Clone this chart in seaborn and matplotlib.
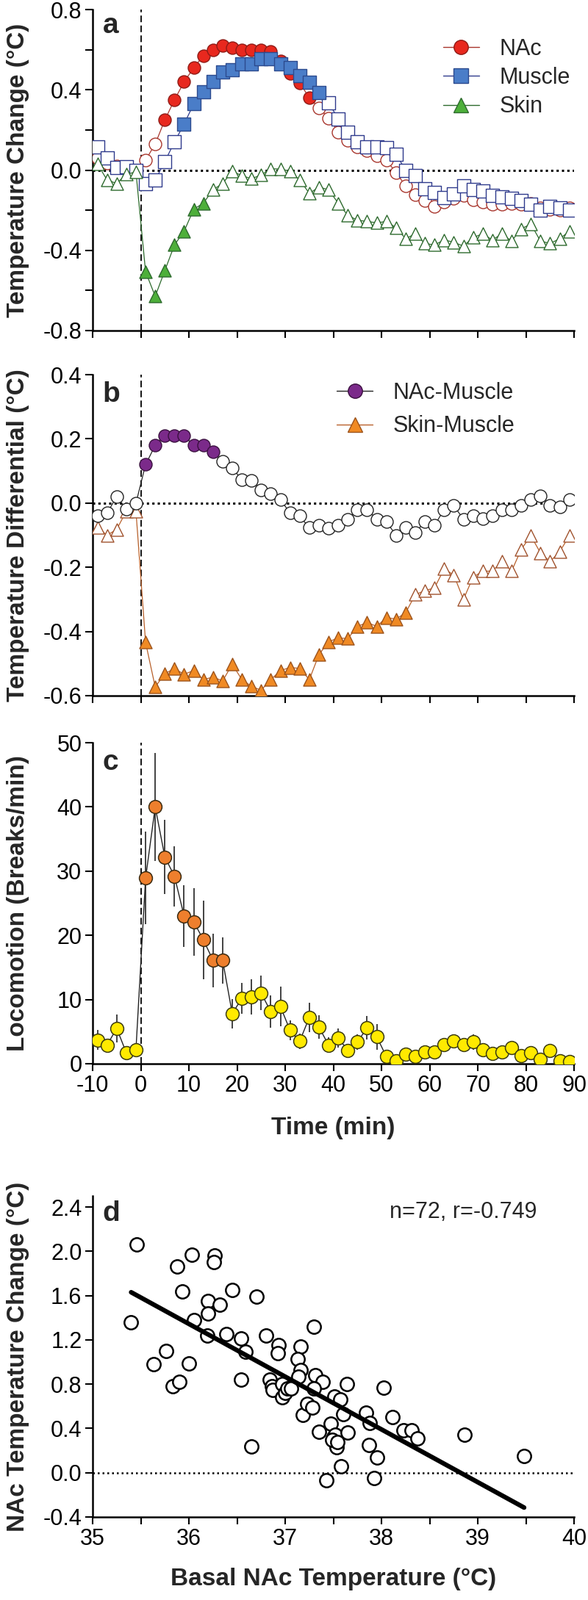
import numpy as np
import pandas as pd
import matplotlib
matplotlib.use("Agg")
import matplotlib.pyplot as plt
import seaborn as sns
from matplotlib.lines import Line2D
from matplotlib.ticker import MultipleLocator

sns.set_style("ticks")
plt.rcParams["font.family"] = ["Liberation Sans", "DejaVu Sans"]
plt.rcParams["axes.unicode_minus"] = False

# ---------------- data ----------------
time_min = list(range(-9, 90, 2))

nac = [0.06, 0.035, 0.02, 0.01, 0.0,
       0.05, 0.13, 0.25, 0.35, 0.44, 0.51, 0.57, 0.60, 0.62, 0.61,
       0.60, 0.60, 0.60, 0.59, 0.545, 0.48, 0.435, 0.36, 0.31, 0.26,
       0.19, 0.147, 0.116, 0.098, 0.073, 0.049, -0.012, -0.079, -0.122, -0.153,
       -0.183, -0.159, -0.14, -0.128, -0.147, -0.159, -0.171, -0.171, -0.165, -0.171,
       -0.165, -0.19, -0.195, -0.2, -0.19]
muscle = [0.116, 0.061, 0.012, 0.018, 0.0,
          -0.067, -0.05, 0.043, 0.14, 0.23, 0.33, 0.39, 0.44, 0.49, 0.50,
          0.53, 0.53, 0.555, 0.555, 0.53, 0.51, 0.47, 0.436, 0.387, 0.336,
          0.256, 0.19, 0.14, 0.116, 0.116, 0.11, 0.079, 0.0, -0.028, -0.092,
          -0.11, -0.138, -0.12, -0.08, -0.098, -0.104, -0.128, -0.134, -0.14, -0.153,
          -0.171, -0.2, -0.183, -0.19, -0.2]
skin = [0.03, -0.049, -0.067, -0.02, -0.01,
        -0.507, -0.629, -0.501, -0.373, -0.305, -0.195, -0.165, -0.098, -0.067, -0.006,
        -0.028, -0.043, -0.024, 0.006, 0.006, -0.006, -0.049, -0.116, -0.085, -0.098,
        -0.165, -0.226, -0.25, -0.256, -0.263, -0.256, -0.287, -0.342, -0.318, -0.366,
        -0.373, -0.348, -0.36, -0.379, -0.336, -0.318, -0.348, -0.318, -0.354, -0.293,
        -0.269, -0.354, -0.366, -0.342, -0.305]

nac_muscle = [-0.039, -0.031, 0.02, -0.018, 0.0,
              0.12, 0.18, 0.21, 0.21, 0.21, 0.18, 0.18, 0.16, 0.13, 0.11,
              0.072, 0.07, 0.041, 0.03, 0.011, -0.031, -0.04, -0.077, -0.069, -0.079,
              -0.069, -0.05, -0.02, -0.02, -0.05, -0.058, -0.1, -0.077, -0.092, -0.058,
              -0.069, -0.02, -0.008, -0.05, -0.039, -0.049, -0.039, -0.02, -0.02, -0.008,
              0.012, 0.022, -0.008, -0.011, 0.011]
skin_muscle = [-0.076, -0.1, -0.082, -0.025, -0.025,
               -0.434, -0.573, -0.531, -0.516, -0.533, -0.522, -0.55, -0.542, -0.554, -0.502,
               -0.55, -0.571, -0.583, -0.55, -0.522, -0.512, -0.515, -0.55, -0.472, -0.432,
               -0.42, -0.422, -0.384, -0.372, -0.384, -0.357, -0.361, -0.342, -0.285, -0.273,
               -0.264, -0.205, -0.224, -0.3, -0.231, -0.212, -0.212, -0.182, -0.212, -0.144,
               -0.102, -0.155, -0.182, -0.151, -0.102]

locomotion = [3.7, 2.9, 5.5, 1.7, 2.2,
              28.9, 40.0, 32.2, 29.2, 23.0, 22.1, 19.3, 16.1, 16.1, 7.8,
              10.2, 10.4, 11.0, 8.1, 8.9, 5.2, 3.5, 7.2, 5.7, 2.9,
              4.0, 2.1, 3.4, 5.6, 4.2, 1.1, 0.5, 1.5, 1.1, 1.8,
              1.8, 3.0, 3.5, 3.0, 3.4, 2.2, 1.6, 1.8, 2.5, 1.3,
              1.7, 0.7, 2.0, 0.5, 0.3]
locomotion_sem = [1.5, 1.0, 2.2, 0.8, 0.8,
                  7.2, 8.4, 5.8, 4.7, 4.8, 5.3, 6.1, 4.2, 3.6, 2.3,
                  2.4, 2.7, 2.7, 2.5, 3.1, 1.5, 1.2, 2.3, 1.8, 1.2,
                  1.5, 0.9, 1.2, 1.8, 2.0, 1.0, 0.5, 0.7, 0.6, 0.7,
                  0.6, 1.0, 1.0, 1.0, 1.2, 0.9, 0.7, 0.8, 1.0, 0.6,
                  0.7, 0.5, 0.9, 0.4, 0.4]

basal_nac = [35.46, 35.40, 35.63, 35.76, 35.83, 35.90, 35.88, 35.93, 36.03, 36.05,
             36.00, 36.27, 36.26, 36.20, 36.20, 36.32, 36.19, 36.39, 36.45, 36.54,
             36.59, 36.54, 36.65, 36.70, 36.80, 36.93, 36.92, 36.84, 36.86, 36.87,
             36.97, 36.97, 37.00, 37.02, 37.16, 37.13, 37.16, 37.14, 37.18, 37.23,
             37.28, 37.30, 37.31, 37.39, 37.30, 37.35, 37.43, 37.47, 37.50, 37.52,
             37.53, 37.51, 37.58, 37.57, 37.60, 37.64, 37.65, 37.84, 37.88, 37.87,
             37.95, 37.92, 38.02, 38.11, 38.23, 38.31, 38.37, 38.86, 39.48, 37.49,
             37.06, 37.54]
nac_change = [2.06, 1.36, 0.98, 1.10, 0.78, 0.82, 1.86, 1.64, 1.97, 1.38,
              0.99, 1.96, 1.90, 1.55, 1.44, 1.52, 1.24, 1.25, 1.65, 1.21,
              1.09, 0.84, 0.24, 1.59, 1.24, 1.15, 1.08, 0.84, 0.78, 0.75,
              0.80, 0.68, 0.72, 0.76, 1.14, 1.03, 0.93, 0.87, 0.52, 0.62,
              0.59, 1.32, 0.88, 0.82, 0.76, 0.37, -0.07, 0.44, 0.32, 0.34,
              0.23, 0.69, 0.06, 0.66, 0.53, 0.80, 0.36, 0.54, 0.45, 0.25,
              0.135, -0.05, 0.77, 0.50, 0.38, 0.38, 0.31, 0.34, 0.15, 0.30,
              0.76, 0.28]

# filled-marker windows (min)
nac_fill = (5, 35)
muscle_fill = (9, 37)
skin_fill = (1, 13)
nacm_fill = (1, 15)
skinm_fill = (1, 55)
loco_fill = (1, 17)

# ---------------- figure ----------------
fig = plt.figure(figsize=(8, 21.78), dpi=100)
L, W, H = 0.1575, 0.819, 0.2006
axA = fig.add_axes([L, 0.7934, W, H])
axB = fig.add_axes([L, 0.5652, W, H])
axC = fig.add_axes([L, 0.3352, W, H])
axD = fig.add_axes([L, 0.0519, W, H])

LABEL_FS = 24
TICK_FS = 22
LEG_FS = 22
MS = 150


def style(ax):
    sns.despine(ax=ax)
    for s in ["left", "bottom"]:
        ax.spines[s].set_linewidth(1.8)
        ax.spines[s].set_color("black")
    ax.tick_params(which="both", direction="out", length=7, width=1.5,
                   color="black", labelcolor="black", labelsize=TICK_FS)


def series(ax, x, y, window, marker, fill, edge, open_edge, line_color, s, z):
    df = pd.DataFrame({"t": x, "v": y})
    df["filled"] = (df.t >= window[0]) & (df.t <= window[1])
    sns.lineplot(data=df, x="t", y="v", ax=ax, color=line_color, lw=0.9,
                 estimator=None, sort=False, legend=False, zorder=z)
    sns.scatterplot(data=df[df.filled], x="t", y="v", ax=ax, marker=marker, s=s,
                    color=fill, edgecolor=edge, linewidth=1.0, legend=False, zorder=z + 0.5)
    sns.scatterplot(data=df[~df.filled], x="t", y="v", ax=ax, marker=marker, s=s,
                    color="white", edgecolor=open_edge, linewidth=1.0, legend=False,
                    zorder=z + 0.4)


def time_axis(ax):
    ax.set_xlim(-10, 90)
    ax.xaxis.set_major_locator(MultipleLocator(10))
    ax.axvline(0, color="black", lw=1.3, ls=(0, (5, 2.5)), zorder=1)


# ---------- panel a ----------
ax = axA
style(ax)
time_axis(ax)
ax.axhline(0, color="black", lw=2.2, ls=(0, (1, 1.4)), zorder=1)
series(ax, time_min, nac, nac_fill, "o", "#E8281E", "#8E1B16", "#A8352C", "#A8352C", MS, 3)
series(ax, time_min, muscle, muscle_fill, "s", "#4A7DC8", "#2C4A8E", "#2E3A8C", "#2E3A8C", MS, 4)
series(ax, time_min, skin, skin_fill, "^", "#4DAF3A", "#2D6A2D", "#2D6A2D", "#2D6A2D", MS, 5)
ax.set_ylim(-0.8, 0.8)
ax.yaxis.set_minor_locator(MultipleLocator(0.2))
ax.set_yticks([-0.8, -0.4, 0.0, 0.4, 0.8])
ax.set_yticklabels(["-0.8", "-0.4", "0.0", "0.4", "0.8"])
ax.tick_params(axis="x", labelbottom=False)
ax.set_xlabel("")
ax.set_ylabel("Temperature Change (°C)", fontsize=LABEL_FS, fontweight="bold")
ax.yaxis.set_label_coords(-0.131, 0.5)
ax.text(0.021, 0.927, "a", transform=ax.transAxes, fontsize=28, fontweight="bold",
        va="baseline", ha="left")
hA = [Line2D([0], [0], color="#A8352C", lw=1, marker="o", ms=14, mfc="#E8281E", mec="#8E1B16"),
      Line2D([0], [0], color="#2E3A8C", lw=1, marker="s", ms=14, mfc="#4A7DC8", mec="#2C4A8E"),
      Line2D([0], [0], color="#2D6A2D", lw=1, marker="^", ms=14, mfc="#4DAF3A", mec="#2D6A2D")]
ax.legend(hA, ["NAc", "Muscle", "Skin"], loc="upper left", bbox_to_anchor=(0.728, 0.911),
          frameon=False, borderpad=0, borderaxespad=0, handlelength=1.6,
          handletextpad=0.9, labelspacing=0.3, prop=dict(size=LEG_FS))

# ---------- panel b ----------
ax = axB
style(ax)
time_axis(ax)
ax.axhline(0, color="black", lw=2.2, ls=(0, (1, 1.4)), zorder=1)
series(ax, time_min, skin_muscle, skinm_fill, "^", "#F08A24", "#9C531C", "#A0522D", "#B8602A", MS, 3)
series(ax, time_min, nac_muscle, nacm_fill, "o", "#7B2A8A", "#3A103F", "#222222", "#222222", MS, 4)
ax.set_ylim(-0.6, 0.4)
ax.set_yticks([-0.6, -0.4, -0.2, 0.0, 0.2, 0.4])
ax.set_yticklabels(["-0.6", "-0.4", "-0.2", "0.0", "0.2", "0.4"])
ax.tick_params(axis="x", labelbottom=False)
ax.set_xlabel("")
ax.set_ylabel("Temperature Differential (°C)", fontsize=LABEL_FS, fontweight="bold")
ax.yaxis.set_label_coords(-0.131, 0.5)
ax.text(0.021, 0.915, "b", transform=ax.transAxes, fontsize=28, fontweight="bold",
        va="baseline", ha="left")
hB = [Line2D([0], [0], color="#222222", lw=1, marker="o", ms=14, mfc="#7B2A8A", mec="#3A103F"),
      Line2D([0], [0], color="#B8602A", lw=1, marker="^", ms=14, mfc="#F08A24", mec="#9C531C")]
ax.legend(hB, ["NAc-Muscle", "Skin-Muscle"], loc="upper left", bbox_to_anchor=(0.507, 0.977),
          frameon=False, borderpad=0, borderaxespad=0, handlelength=1.6,
          handletextpad=0.9, labelspacing=0.5, prop=dict(size=LEG_FS))

# ---------- panel c ----------
ax = axC
style(ax)
time_axis(ax)
dfc = pd.DataFrame({"t": time_min, "v": locomotion, "e": locomotion_sem})
dfc["filled"] = (dfc.t >= loco_fill[0]) & (dfc.t <= loco_fill[1])
ax.errorbar(dfc.t, dfc.v, yerr=dfc.e, fmt="none", ecolor="#333333", elinewidth=1.3,
            capsize=0, zorder=2)
sns.lineplot(data=dfc, x="t", y="v", ax=ax, color="#222222", lw=1.0, estimator=None,
             sort=False, legend=False, zorder=2.5)
sns.scatterplot(data=dfc[dfc.filled], x="t", y="v", ax=ax, s=165, color="#EE7F2D",
                edgecolor="#3A2A10", linewidth=1.1, legend=False, zorder=3)
sns.scatterplot(data=dfc[~dfc.filled], x="t", y="v", ax=ax, s=165, color="#FFEA00",
                edgecolor="#3A3A10", linewidth=1.1, legend=False, zorder=3)
ax.set_ylim(0, 50)
ax.set_yticks([0, 10, 20, 30, 40, 50])
ax.set_xticks(list(range(-10, 91, 10)))
ax.set_ylabel("Locomotion (Breaks/min)", fontsize=LABEL_FS, fontweight="bold")
ax.yaxis.set_label_coords(-0.131, 0.5)
ax.set_xlabel("Time (min)", fontsize=LABEL_FS, fontweight="bold")
ax.xaxis.set_label_coords(0.5, -0.165)
ax.text(0.021, 0.916, "c", transform=ax.transAxes, fontsize=28, fontweight="bold",
        va="baseline", ha="left")

# ---------- panel d ----------
ax = axD
style(ax)
dfd = pd.DataFrame({"basal": basal_nac, "change": nac_change})
ax.axhline(0, color="black", lw=1.8, ls=(0, (1, 1.6)), zorder=1)
sns.regplot(data=dfd, x="basal", y="change", ax=ax, ci=None, truncate=True,
            scatter_kws=dict(s=175, facecolor="white", edgecolor="black", linewidths=1.8,
                             zorder=3, alpha=1),
            line_kws=dict(color="black", lw=4.5, zorder=4, solid_capstyle="round"))
ax.set_xlim(35, 40)
ax.set_ylim(-0.4, 2.5)
ax.set_xticks([35, 36, 37, 38, 39, 40])
ax.xaxis.set_minor_locator(MultipleLocator(0.5))
ax.set_yticks([-0.4, 0.0, 0.4, 0.8, 1.2, 1.6, 2.0, 2.4])
ax.set_yticklabels(["-0.4", "0.0", "0.4", "0.8", "1.2", "1.6", "2.0", "2.4"])
ax.set_xlabel("Basal NAc Temperature (°C)", fontsize=LABEL_FS, fontweight="bold")
ax.xaxis.set_label_coords(0.5, -0.158)
ax.set_ylabel("NAc Temperature Change (°C)", fontsize=LABEL_FS, fontweight="bold")
ax.yaxis.set_label_coords(-0.131, 0.5)
ax.text(0.021, 0.923, "d", transform=ax.transAxes, fontsize=28, fontweight="bold",
        va="baseline", ha="left")
ax.text(38.85, 2.30, "n=72, r=-0.749", fontsize=TICK_FS, ha="center", va="baseline")

fig.savefig("out.png", dpi=100, facecolor="white")
